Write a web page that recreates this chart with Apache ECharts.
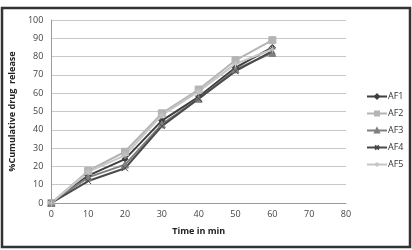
<!DOCTYPE html>
<html>
<head>
<meta charset="utf-8">
<script src="https://cdn.jsdelivr.net/npm/echarts@6/dist/echarts.min.js"></script>
<style>
  html, body { margin: 0; padding: 0; background: #fff; }
  #chart { width: 412px; height: 250px; }
</style>
</head>
<body>
<div id="chart"></div>
<script>
// time points (min)
const times = [0, 10, 20, 30, 40, 50, 60];
const seriesNames = ['AF1', 'AF2', 'AF3', 'AF4', 'AF5'];
const af1 = [0, 15, 24, 45, 58, 74, 85];
const af2 = [0, 17.5, 28, 49, 62, 78, 89];
const af3 = [0, 14, 21, 43, 57, 73, 82];
const af4 = [0, 12, 19, 42, 57, 72, 83];
const af5 = [0, 17, 26, 48, 61, 76, 84];

const xPath = 'path://M0,0L10,10M10,0L0,10';
const starPath = 'path://M5,0L5,10M0,5L10,5M1.5,1.5L8.5,8.5M8.5,1.5L1.5,8.5';

const styles = [
  {color: '#3f3f3f', symbol: 'diamond', size: 6},
  {color: '#b4b4b4', symbol: 'rect', size: 7},
  {color: '#7f7f7f', symbol: 'triangle', size: 7},
  {color: '#4a4a4a', symbol: xPath, size: 6},
  {color: '#c6c6c6', symbol: starPath, size: 7}
];
const values = [af1, af2, af3, af4, af5];

const chart = echarts.init(document.getElementById('chart'));

const series = seriesNames.map((name, i) => ({
  name: name,
  type: 'line',
  data: times.map((t, j) => [t, values[i][j]]),
  symbol: styles[i].symbol,
  symbolSize: styles[i].size,
  showAllSymbol: true,
  lineStyle: {color: styles[i].color, width: 2},
  itemStyle: {color: styles[i].color, borderColor: styles[i].color, borderWidth: 1},
  animation: false
}));

chart.setOption({
  backgroundColor: '#ffffff',
  animation: false,
  graphic: [{
    type: 'rect',
    shape: {x: 2, y: 8, width: 408, height: 239},
    style: {fill: 'none', stroke: '#333333', lineWidth: 2.5},
    silent: true
  }],
  grid: {left: 51, right: 66, top: 20, bottom: 47},
  legend: {
    orient: 'vertical',
    left: 361,
    top: 87,
    itemWidth: 20,
    itemHeight: 5,
    itemGap: 8,
    textStyle: {fontSize: 9, color: '#333', fontFamily: 'Open Sans', padding: [0, 0, 0, -4], lineHeight: 9},
    data: seriesNames
  },
  xAxis: {
    type: 'value',
    min: 0, max: 80, interval: 10,
    name: 'Time in min',
    nameLocation: 'middle',
    nameGap: 24,
    nameTextStyle: {fontSize: 9, fontWeight: 'bold', color: '#222', fontFamily: 'Open Sans'},
    axisLine: {show: true, lineStyle: {color: '#9a9a9a'}},
    axisTick: {show: false},
    axisLabel: {fontSize: 9, color: '#444', fontFamily: 'Open Sans', margin: 7},
    splitLine: {show: false}
  },
  yAxis: {
    type: 'value',
    min: 0, max: 100, interval: 10,
    name: '%Cumulative drug  release',
    nameLocation: 'middle',
    nameGap: 31,
    nameTextStyle: {fontSize: 9, fontWeight: 'bold', color: '#222', fontFamily: 'Open Sans'},
    axisLine: {show: true, lineStyle: {color: '#9a9a9a'}},
    axisTick: {show: false},
    axisLabel: {fontSize: 9, color: '#444', fontFamily: 'Open Sans', margin: 8},
    splitLine: {show: true, lineStyle: {color: '#c8c8c8', width: 1}}
  },
  series: series
});
</script>
</body>
</html>
